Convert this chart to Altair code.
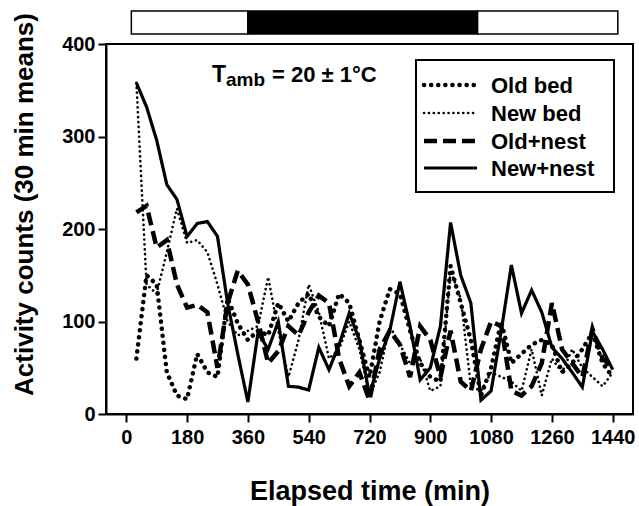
import altair as alt
import pandas as pd

# ---- data ----
time_min = [30 * i for i in range(1, 49)]

old_bed = [60, 150, 140, 45, 20, 16, 65, 45, 40, 125, 98, 80,
           90, 85, 120, 100, 120, 130, 105, 95, 130, 120, 80, 40,
           100, 135, 130, 90, 55, 40, 35, 160, 120, 80, 20, 50,
           100, 55, 65, 75, 80, 75, 45, 55, 70, 88, 55, 40]
new_bed = [358, 140, 130, 175, 222, 185, 188, 175, 140, 100, 85, 90,
           95, 148, 90, 40, 80, 140, 110, 60, 70, 100, 70, 20,
           45, 95, 75, 55, 60, 25, 30, 155, 125, 30, 25, 45,
           40, 35, 25, 70, 20, 60, 45, 70, 50, 40, 30, 45]
old_nest = [218, 225, 180, 188, 140, 115, 118, 110, 50, 120, 155, 140,
            100, 55, 68, 95, 85, 110, 128, 120, 60, 30, 45, 15,
            70, 90, 75, 40, 95, 80, 40, 90, 35, 25, 70, 100,
            95, 25, 20, 30, 55, 120, 70, 55, 40, 92, 60, 50]
new_nest = [358, 332, 296, 248, 232, 192, 206, 208, 192, 120, 65, 13,
            88, 70, 100, 30, 29, 26, 72, 48, 75, 109, 80, 20,
            60, 90, 143, 95, 37, 50, 95, 207, 150, 120, 15, 25,
            90, 161, 109, 134, 110, 72, 60, 45, 29, 89, 70, 48]

series_names = ["Old bed", "New bed", "Old+nest", "New+nest"]
series_values = [old_bed, new_bed, old_nest, new_nest]

x_ticks = [0, 180, 360, 540, 720, 900, 1080, 1260, 1440]
y_ticks = [0, 100, 200, 300, 400]

light_start = [15, 360, 1040]
light_end = [360, 1040, 1455]
light_fill = ["white", "black", "white"]

FONT = "Liberation Sans"

styles = {
    "Old bed": dict(strokeWidth=4.5, strokeDash=[0.1, 7], strokeCap="round"),
    "New bed": dict(strokeWidth=2.6, strokeDash=[0.1, 4.8], strokeCap="round"),
    "Old+nest": dict(strokeWidth=4.5, strokeDash=[13, 6], strokeCap="butt"),
    "New+nest": dict(strokeWidth=3.2, strokeCap="butt"),
}

W, H = 527, 370
PL, PT = 106, 44

xscale = alt.Scale(domain=[-60, 1500], nice=False, zero=False)
yscale = alt.Scale(domain=[0, 400], nice=False)

xaxis = alt.Axis(values=x_ticks, format="d", title="Elapsed time (min)", grid=False,
                 tickSize=8, tickWidth=2, domainWidth=2, domainColor="black",
                 tickColor="black", labelFont=FONT, labelFontSize=20,
                 labelFontWeight="bold", labelColor="black", labelPadding=5,
                 titleFont=FONT, titleFontSize=27, titleFontWeight="bold",
                 titleColor="black", titlePadding=31, labelFlush=False)
yaxis = alt.Axis(values=y_ticks, format="d", title="Activity counts (30 min means)", grid=False,
                 tickSize=8, tickWidth=2, domainWidth=2, domainColor="black",
                 tickColor="black", labelFont=FONT, labelFontSize=20,
                 labelFontWeight="bold", labelColor="black", labelPadding=3,
                 titleFont=FONT, titleFontSize=26, titleFontWeight="bold",
                 titleColor="black", titlePadding=24, titleY=160)

layers = []
for name, vals in zip(series_names, series_values):
    df = pd.DataFrame({"t": time_min, "v": vals})
    layers.append(alt.Chart(df).mark_line(color="black", **styles[name]).encode(
        x=alt.X("t:Q", scale=xscale, axis=xaxis),
        y=alt.Y("v:Q", scale=yscale, axis=yaxis)))

# light/dark bar above the plot
bar_df = pd.DataFrame({"t": light_start, "e": light_end, "f": light_fill})
bar = alt.Chart(bar_df).mark_rect(stroke="black", strokeWidth=1.5).encode(
    x=alt.X("t:Q", scale=xscale, axis=xaxis), x2="e:Q",
    y=alt.value(11 - PT), y2=alt.value(34 - PT),
    fill=alt.Fill("f:N", scale=None))
layers.append(bar)

one = pd.DataFrame({"d": [0]})

# annotation Tamb = 20 ± 1°C
ann_T = alt.Chart(one).mark_text(font=FONT, fontSize=23, fontWeight="bold",
                                 align="left", baseline="alphabetic", color="black").encode(
    x=alt.value(212 - PL), y=alt.value(82 - PT), text=alt.value("T"))
ann_sub = alt.Chart(one).mark_text(font=FONT, fontSize=19, fontWeight="bold",
                                   align="left", baseline="alphabetic", color="black").encode(
    x=alt.value(226 - PL), y=alt.value(86 - PT), text=alt.value("amb"))
ann_rest = alt.Chart(one).mark_text(font=FONT, fontSize=22, fontWeight="bold",
                                    align="left", baseline="alphabetic", color="black").encode(
    x=alt.value(272 - PL), y=alt.value(82 - PT), text=alt.value("= 20 \u00b1 1\u00b0C"))
layers += [ann_T, ann_sub, ann_rest]

# legend box
box = alt.Chart(one).mark_rect(fill="white", stroke="black", strokeWidth=2).encode(
    x=alt.value(416 - PL), x2=alt.value(614 - PL),
    y=alt.value(60 - PT), y2=alt.value(192 - PT))
layers.append(box)

rows_y = [85, 113, 141, 168]
for name, ry in zip(series_names, rows_y):
    st = dict(styles[name])
    layers.append(alt.Chart(one).mark_rule(color="black", **st).encode(
        x=alt.value(424 - PL), x2=alt.value(477 - PL), y=alt.value(ry - PT)))
    layers.append(alt.Chart(one).mark_text(font=FONT, fontSize=22, fontWeight="bold",
                                           align="left", baseline="middle", color="black").encode(
        x=alt.value(491 - PL), y=alt.value(ry + 1 - PT), text=alt.value(name)))

chart = alt.layer(*layers).properties(
    width=W, height=H,
    padding={"left": PL, "top": PT, "right": 639 - PL - W, "bottom": 506 - PT - H},
    autosize=alt.AutoSizeParams(type="none"),
).configure_view(stroke="black", strokeWidth=2)

chart.save("out.html", embed_options={"renderer": "svg", "actions": False})
